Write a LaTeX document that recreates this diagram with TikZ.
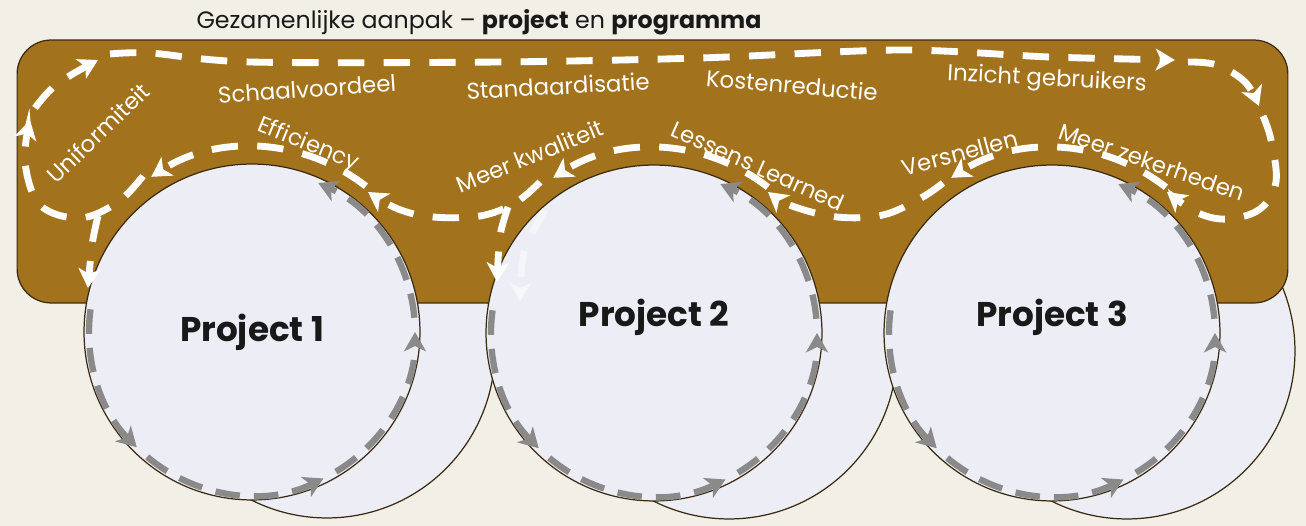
\documentclass[tikz,border=0pt]{standalone}
\usepackage{fontspec}
\setmainfont{Poppins}
\usetikzlibrary{calc,arrows.meta}

\definecolor{bgbeige}{HTML}{F2EFE6}
\definecolor{bandbrown}{HTML}{A3721D}
\definecolor{ringfill}{HTML}{EDEDF6}
\definecolor{edgedark}{HTML}{3A2A10}
\definecolor{flowgray}{HTML}{8A8A8A}

\tikzset{
  ring/.style={circle, draw=edgedark, fill=ringfill, line width=0.7pt, minimum size=6.72cm, inner sep=0pt},
  band/.style={draw=edgedark, fill=bandbrown, line width=0.7pt, rounded corners=0.68cm,
    minimum width=25.42cm, minimum height=5.26cm, inner sep=0pt},
  whiteflow/.style={draw=white, line width=3.9pt, dash pattern=on 15pt off 11pt,
    -{Stealth[length=11pt,width=12.5pt,inset=3pt]}},
  grayflow/.style={draw=flowgray, line width=3.6pt, dash pattern=on 14pt off 8pt,
    -{Stealth[length=11pt,width=12.5pt,inset=3pt]}},
  tag/.style={text=white, font=\fontsize{13}{15}\selectfont, inner sep=0pt},
  projlabel/.style={text=black!90, font=\bfseries\fontsize{19.5}{22}\selectfont},
}

\begin{document}
\begin{tikzpicture}[x=0.02cm, y=0.02cm]
    \fill[bgbeige] (0,0) rectangle (1306,-526);
    \useasboundingbox (0,0) rectangle (1306,-526);

    % back circles, band, front circles
    \node[ring] (b1) at (327,-350) {};
    \node[ring] (b2) at (729,-351) {};
    \node[ring] (b3) at (1127,-351) {};

    \node[band] (band) at (652.5,-171.5) {};

    \node[ring] (p1) at (252,-332) {};
    \node[ring] (p2) at (654,-333) {};
    \node[ring] (p3) at (1052,-333) {};

    % project cycles
    \foreach \p in {p1,p2,p3} {
        \foreach \a/\b in {172/225, 230/296, 301/360, 365/426}
            \draw[grayflow] ($(\p)+(\a:163)$) arc[start angle=\a, end angle=\b, radius=163];
    }

    % programme loop
    \foreach \p in {p1,p2,p3}
        \draw[whiteflow] ($(\p)+(52:185)$) arc[start angle=52, end angle=123, radius=185];

    \draw[whiteflow] plot[smooth, tension=.6] coordinates {(540,-182) (515,-203) (480,-216) (433,-217) (398,-209) (368,-192)};
    \draw[whiteflow] plot[smooth, tension=.6] coordinates {(943,-183) (921,-198) (883,-215) (837,-217) (792,-206) (768,-192)};
    \draw[whiteflow] plot[smooth, tension=.6] coordinates {(143,-176) (118,-202) (80,-218) (40,-205) (25,-162) (30,-120)};
    \draw[whiteflow] plot[smooth, tension=.6] coordinates {(35,-108) (57,-84) (98,-60)};
    \draw[whiteflow] plot[smooth, tension=.5] coordinates {(110,-54) (150,-53) (250,-62) (500,-62) (700,-58) (900,-50) (1050,-57) (1175,-60)};
    \draw[whiteflow] plot[smooth, tension=.6] coordinates {(1188,-62) (1217,-65) (1245,-82) (1259,-106)};
    \draw[whiteflow] plot[smooth, tension=.6] coordinates {(1263,-116) (1271,-140) (1276,-182) (1260,-209) (1228,-219) (1198,-213) (1167,-192)};

    % into the projects
    \draw[whiteflow] plot[smooth] coordinates {(98,-216) (92,-245) (88,-288)};
    \draw[whiteflow] plot[smooth] coordinates {(508,-207) (500,-236) (497,-282)};
    \draw[whiteflow, opacity=.45] plot[smooth] coordinates {(545,-210) (524,-252) (520,-302)};

    % texts
    \node[text=black!90, font=\fontsize{13.5}{16}\selectfont] (title) at (479,-22)
        {Gezamenlijke aanpak -- \textbf{project} en \textbf{programma}};

    \node[tag, rotate=44] (uni) at (98,-133) {Uniformiteit};
    \node[tag, rotate=4] (schaal) at (307,-89) {Schaalvoordeel};
    \node[tag, rotate=3] (stand) at (558,-86) {Standaardisatie};
    \node[tag, rotate=-5] (kosten) at (792,-85) {Kostenreductie};
    \node[tag, rotate=-3] (inzicht) at (1047,-80) {Inzicht gebruikers};
    \node[tag, rotate=-22] (eff) at (308,-145) {Efficiency};
    \node[tag, rotate=22] (kwal) at (530,-156) {Meer kwaliteit};
    \node[tag, rotate=-24] (lessen) at (758,-166) {Lessens Learned};
    \node[tag, rotate=15] (versn) at (960,-153) {Versnellen};
    \node[tag, rotate=-19] (zeker) at (1152,-162) {Meer zekerheden};

    \node[projlabel] (t1) at (p1) {Project 1};
    \node[projlabel] (t2) at ($(p2)+(0,16)$) {Project 2};
    \node[projlabel] (t3) at ($(p3)+(0,16)$) {Project 3};
\end{tikzpicture}
\end{document}
